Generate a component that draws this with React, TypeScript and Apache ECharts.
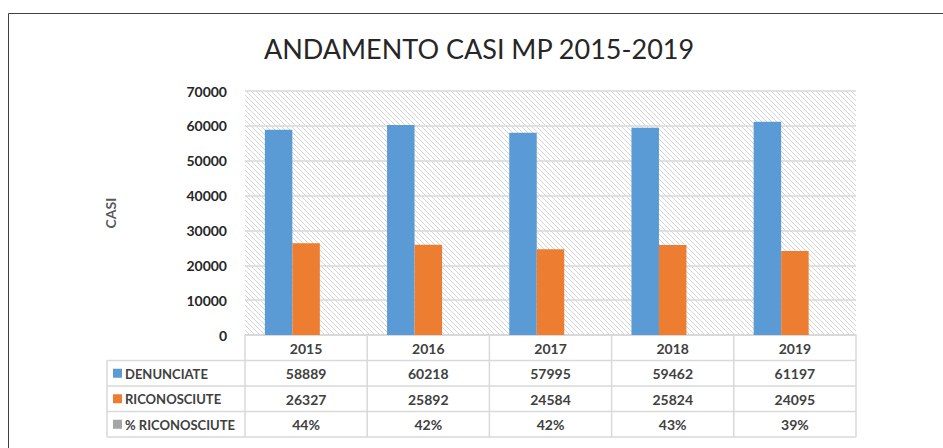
import React, { useEffect, useRef } from "react";
import * as echarts from "echarts";

const years = ["2015", "2016", "2017", "2018", "2019"];
const denunciate = [58889, 60218, 57995, 59462, 61197];
const riconosciute = [26327, 25892, 24584, 25824, 24095];
const percRiconosciute = [44, 42, 42, 43, 39];
const seriesNames = ["DENUNCIATE", "RICONOSCIUTE", "% RICONOSCIUTE"];
const seriesColors = ["#5b9bd5", "#ed7d31", "#a5a5a5"];
const yTicks = { min: 0, max: 70000, interval: 10000 };

const FONT = "Lato, 'Open Sans', sans-serif";

function hatchDataUrl(): string {
  const s = 5;
  const c = document.createElement("canvas");
  c.width = s;
  c.height = s;
  const ctx = c.getContext("2d")!;
  ctx.fillStyle = "#ffffff";
  ctx.fillRect(0, 0, s, s);
  ctx.strokeStyle = "#d6d6d6";
  ctx.lineWidth = 1;
  ctx.beginPath();
  ctx.moveTo(-1, -1);
  ctx.lineTo(s + 1, s + 1);
  ctx.moveTo(-1, s - 1);
  ctx.lineTo(1, s + 1);
  ctx.moveTo(s - 1, -1);
  ctx.lineTo(s + 1, 1);
  ctx.stroke();
  return c.toDataURL();
}

export default function App() {
  const ref = useRef<HTMLDivElement>(null);
  useEffect(() => {
    if (!ref.current) return;
    const chart = echarts.init(ref.current, null, { renderer: "svg" });
    const gridLeft = 245;
    const gridRight = 87;
    const gridTop = 91;
    const gridBottom = 113;
    chart.setOption({
      animation: false,
      backgroundColor: "#ffffff",
      title: {
        text: "ANDAMENTO CASI MP 2015-2019",
        left: 474,
        top: 30,
        textAlign: "center",
        textStyle: { fontFamily: FONT, fontSize: 27, fontWeight: "normal", color: "#262626" },
      },
      grid: {
        left: gridLeft,
        right: gridRight,
        top: gridTop,
        bottom: gridBottom,
        show: true,
        borderWidth: 0,
        backgroundColor: { image: hatchDataUrl(), repeat: "repeat", imageWidth: 5, imageHeight: 5 },
      },
      xAxis: {
        type: "category",
        data: years,
        axisLine: { show: true, lineStyle: { color: "#d9d9d9", width: 1.5 } },
        axisTick: { show: false },
        axisLabel: { show: false },
      },
      yAxis: {
        type: "value",
        min: yTicks.min,
        max: yTicks.max,
        interval: yTicks.interval,
        name: "CASI",
        nameLocation: "middle",
        nameGap: 128,
        nameTextStyle: { fontFamily: FONT, fontSize: 14, fontWeight: "bold", color: "#595959" },
        axisLine: { show: false },
        axisTick: { show: false },
        axisLabel: {
          fontFamily: FONT,
          fontSize: 14,
          fontWeight: "bold",
          color: "#262626",
          margin: 18,
          formatter: (v: number) => String(v),
        },
        splitLine: { show: true, lineStyle: { color: "#d9d9d9", width: 1.5 } },
      },
      series: [
        { name: seriesNames[0], type: "bar", data: denunciate, itemStyle: { color: seriesColors[0] }, barGap: "0%", barCategoryGap: "32.5%" },
        { name: seriesNames[1], type: "bar", data: riconosciute, itemStyle: { color: seriesColors[1] }, barGap: "0%", barCategoryGap: "32.5%" },
        { name: seriesNames[2], type: "bar", data: percRiconosciute.map((p) => p / 100), itemStyle: { color: seriesColors[2] }, barGap: "0%", barCategoryGap: "32.5%" },
      ],
    });

    // Build the data table below the axis from the chart's own scale
    const x0 = chart.convertToPixel({ xAxisIndex: 0 }, 0) as number;
    const x1 = chart.convertToPixel({ xAxisIndex: 0 }, 1) as number;
    const band = x1 - x0;
    const yZero = chart.convertToPixel({ yAxisIndex: 0 }, 0) as number;
    const rowH = 25.5;
    const tableLeft = 107;
    const plotLeft = x0 - band / 2;
    const plotRight = x0 + band * (years.length - 0.5);
    const lineStyle = { stroke: "#d9d9d9", lineWidth: 1.5 };
    const textColor = "#404040";
    const els: any[] = [];
    els.push({ type: "line", shape: { x1: plotLeft, y1: yZero, x2: plotRight, y2: yZero }, style: lineStyle });
    for (let r = 1; r <= 4; r++) {
      const y = yZero + r * rowH;
      els.push({ type: "line", shape: { x1: tableLeft, y1: y, x2: plotRight, y2: y }, style: lineStyle });
    }
    els.push({ type: "line", shape: { x1: tableLeft, y1: yZero + rowH, x2: tableLeft, y2: yZero + 4 * rowH }, style: lineStyle });
    for (let i = 0; i <= years.length; i++) {
      const x = plotLeft + i * band;
      els.push({ type: "line", shape: { x1: x, y1: yZero, x2: x, y2: yZero + 4 * rowH }, style: lineStyle });
    }
    const textEl = (x: number, y: number, t: string, align: string, size: number) => ({
      type: "text",
      x,
      y,
      style: { text: t, fontFamily: FONT, fontSize: size, fontWeight: "bold", fill: textColor, align, verticalAlign: "middle" },
    });
    years.forEach((yr, i) => {
      const cx = x0 + i * band;
      els.push(textEl(cx, yZero + rowH * 0.5 + 0.5, yr, "center", 14));
      els.push(textEl(cx, yZero + rowH * 1.5 + 0.5, String(denunciate[i]), "center", 14));
      els.push(textEl(cx, yZero + rowH * 2.5 + 0.5, String(riconosciute[i]), "center", 14));
      els.push(textEl(cx, yZero + rowH * 3.5 + 0.5, percRiconosciute[i] + "%", "center", 14));
    });
    seriesNames.forEach((n, r) => {
      const cy = yZero + rowH * (r + 1.5);
      els.push({ type: "rect", shape: { x: 113, y: cy - 4.5, width: 9, height: 9 }, style: { fill: seriesColors[r] } });
      els.push(textEl(125, cy + 0.5, n, "left", 13));
    });
    els.push({ type: "polyline", shape: { points: [[8.5, 460], [8.5, 13.5], [960, 13.5]] }, style: { stroke: "#404040", lineWidth: 1, fill: null } });
    chart.setOption({ graphic: els });
    return () => chart.dispose();
  }, []);
  return <div ref={ref} style={{ position: "fixed", left: 0, top: 0, width: 943, height: 448 }} />;
}
